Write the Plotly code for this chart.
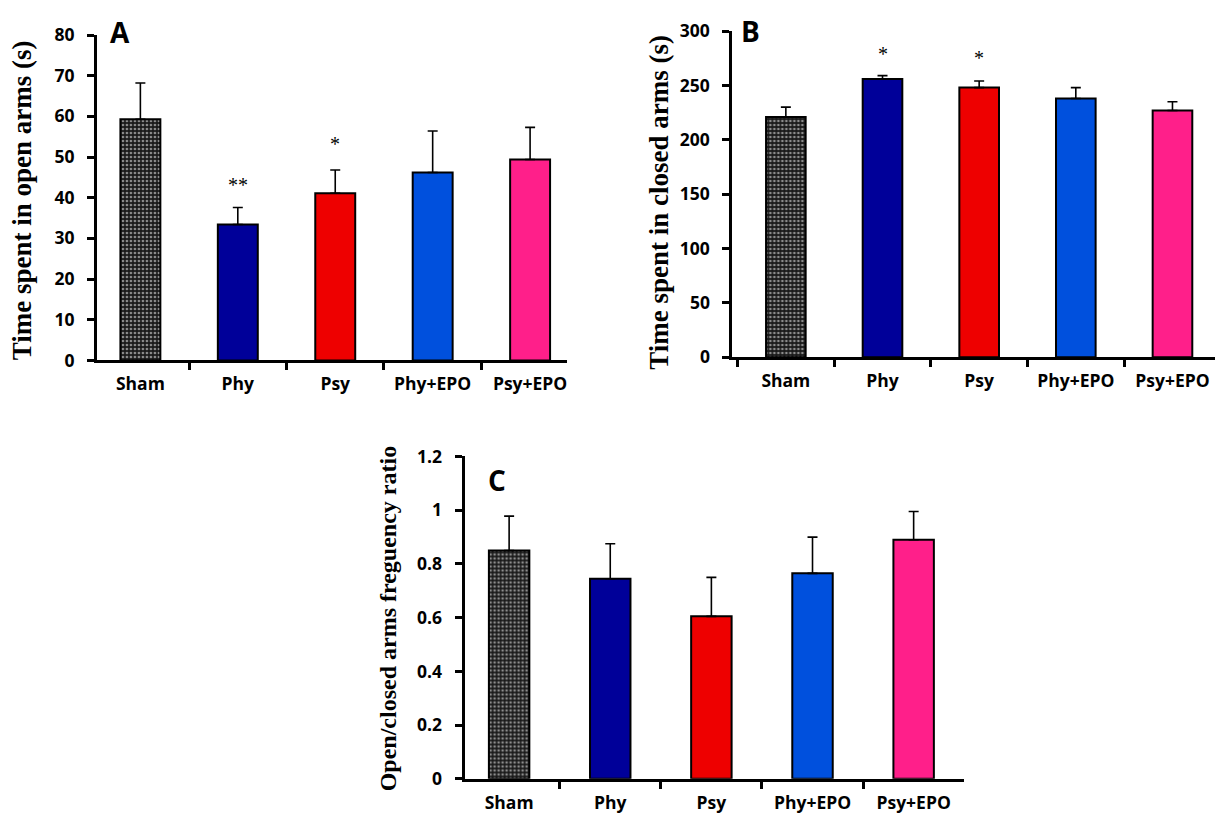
import plotly.graph_objects as go

groups = ["Sham", "Phy", "Psy", "Phy+EPO", "Psy+EPO"]
colors = ["#1a1a1a", "#000099", "#EE0000", "#0050DD", "#FF1F8A"]

open_time = [59.3, 33.4, 41.1, 46.2, 49.4]
open_err = [8.9, 4.2, 5.7, 10.2, 7.9]
open_stars = ["", "**", "*", "", ""]
open_star_y = [None, 43.0, 53.1, None, None]

closed_time = [221, 256, 248, 238, 227]
closed_err = [9, 3, 6, 10, 8]
closed_stars = ["", "*", "*", "", ""]
closed_star_y = [None, 279, 275.5, None, None]

ratio = [0.85, 0.745, 0.605, 0.765, 0.89]
ratio_err = [0.128, 0.13, 0.145, 0.135, 0.105]

W, H = 1208, 830


def px(X):
    return (X - 8) / W


def py(Y):
    return 1 - ((Y - 20) / 0.97) / H


fig = go.Figure()

panels = [
    ("x", "y", open_time, open_err, open_stars, open_star_y, 0.41),
    ("x2", "y2", closed_time, closed_err, closed_stars, closed_star_y, 0.41),
    ("x3", "y3", ratio, ratio_err, [""] * 5, [None] * 5, 0.40),
]

for xa, ya, vals, errs, stars, sy, bw in panels:
    fig.add_trace(go.Bar(
        x=groups, y=vals, xaxis=xa, yaxis=ya, width=bw,
        marker=dict(
            color=colors,
            line=dict(color="black", width=2),
            pattern=dict(shape=[".", "", "", "", ""], fgcolor="#9a9a9a",
                         bgcolor="#1a1a1a", size=4, solidity=0.35),
        ),
        error_y=dict(type="data", symmetric=False, array=errs,
                     arrayminus=[0] * len(errs), color="black",
                     thickness=1.6, width=5),
        showlegend=False,
    ))
    for g, s, yv in zip(groups, stars, sy):
        if s:
            fig.add_annotation(x=g, y=yv, xref=xa, yref=ya, text=s,
                               showarrow=False, yanchor="middle",
                               font=dict(family="Liberation Serif", size=20, color="black"))

tickfont = dict(family="Open Sans", size=17.5, color="black", weight="bold")

xcommon = dict(showline=True, linecolor="black", linewidth=3, ticks="outside",
               tickson="boundaries", ticklen=7, tickwidth=2.5, tickcolor="black",
               tickfont=tickfont, ticklabelstandoff=6, showgrid=False, zeroline=False)
ycommon = dict(showline=True, linecolor="black", linewidth=3, ticks="outside",
               ticklen=7, tickwidth=2.5, tickcolor="black", tickfont=tickfont,
               ticklabelstandoff=9, showgrid=False, zeroline=False)

fig.update_layout(
    width=W, height=H,
    margin=dict(l=0, r=0, t=0, b=0),
    paper_bgcolor="white", plot_bgcolor="white",
    xaxis=dict(domain=[px(97), px(567)], anchor="y", range=[-0.446, 4.374], **xcommon),
    yaxis=dict(domain=[py(359), py(34)], anchor="x", range=[0, 80], dtick=10, **ycommon),
    xaxis2=dict(domain=[px(733), 1.0], anchor="y2", range=[-0.553, 4.44], **xcommon),
    yaxis2=dict(domain=[py(356), py(30)], anchor="x2", range=[0, 300], dtick=50, **ycommon),
    xaxis3=dict(domain=[px(465), px(965)], anchor="y3", range=[-0.44, 4.5], **xcommon),
    yaxis3=dict(domain=[py(777), py(455)], anchor="x3", range=[0, 1.2], dtick=0.2,
                tickformat="~g", **ycommon),
)

titlefont = dict(family="Liberation Serif", size=27, color="black", weight="bold")
fig.add_annotation(x=px(22), y=py(199), xref="paper", yref="paper",
                   text="Time spent in open arms (s)", textangle=-90, showarrow=False,
                   xanchor="center", yanchor="middle", font=titlefont)
fig.add_annotation(x=px(660), y=py(201), xref="paper", yref="paper",
                   text="Time spent in closed arms (s)", textangle=-90, showarrow=False,
                   xanchor="center", yanchor="middle", font=titlefont)
fig.add_annotation(x=px(388), y=py(617), xref="paper", yref="paper",
                   text="Open/closed arms freguency ratio", textangle=-90, showarrow=False,
                   xanchor="center", yanchor="middle",
                   font=dict(family="Liberation Serif", size=24, color="black", weight="bold"))

panel_font = dict(family="Open Sans", size=28, color="black", weight="bold")
fig.add_annotation(x=px(120), y=py(31), xref="paper", yref="paper", text="A",
                   showarrow=False, xanchor="center", yanchor="middle", font=panel_font)
fig.add_annotation(x=px(751), y=py(30), xref="paper", yref="paper", text="B",
                   showarrow=False, xanchor="center", yanchor="middle", font=panel_font)
fig.add_annotation(x=px(497), y=py(478), xref="paper", yref="paper", text="C",
                   showarrow=False, xanchor="center", yanchor="middle", font=panel_font)

fig.write_html("out.html")
